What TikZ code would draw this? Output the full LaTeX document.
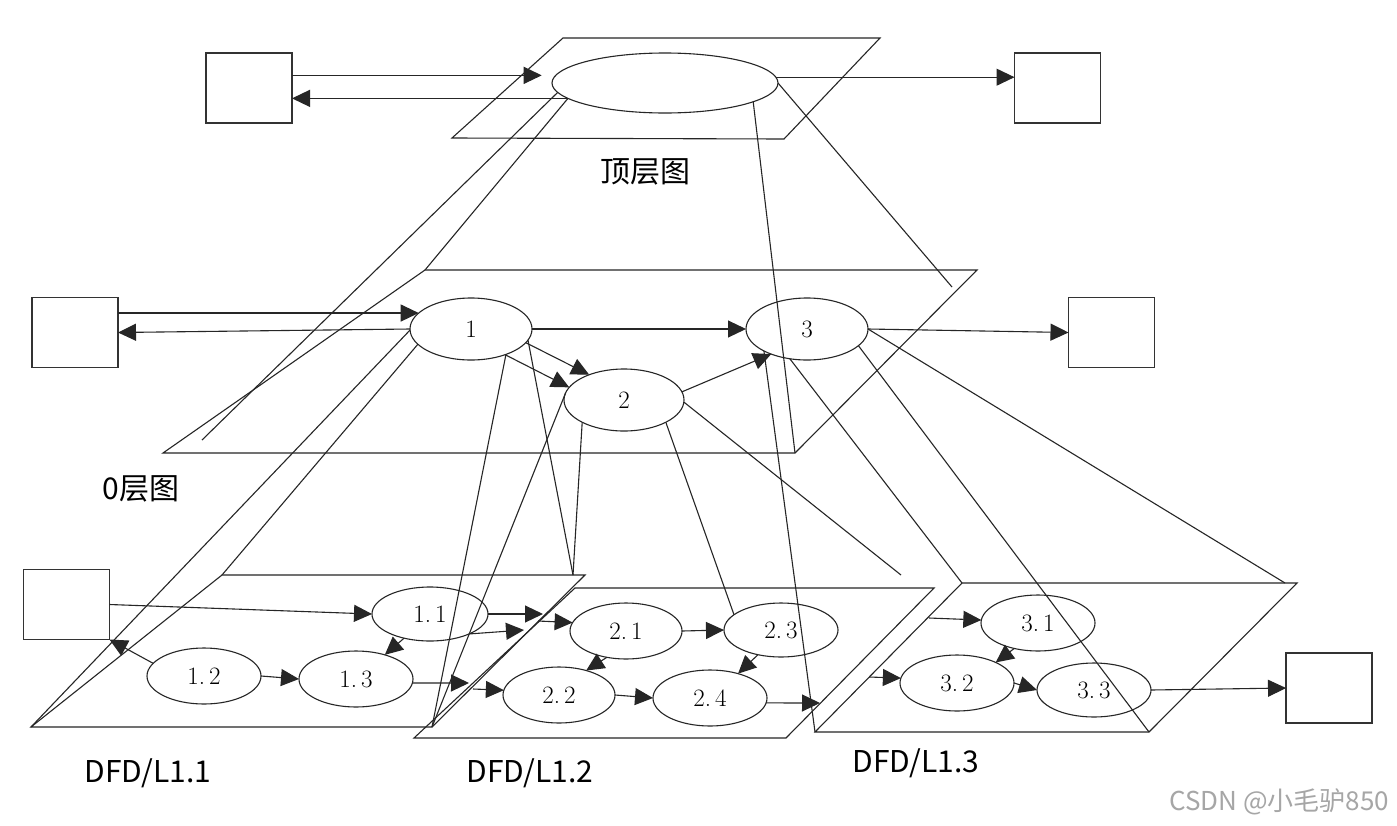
\documentclass[tikz,border=0pt]{standalone}
\usepackage{fontspec}
\newfontfamily\cjk{Noto Sans CJK SC}
\usetikzlibrary{arrows.meta,shapes.geometric}
\newcommand{\bt}[2]{#1.\kern4pt#2}
\begin{document}
\begin{tikzpicture}[x=1pt,y=-1pt,
  ln/.style={line width=1.1pt, draw=black!85},
  arr/.style={line width=1.1pt, draw=black!85, -{Triangle[length=18pt,width=17pt]}},
  bub/.style={ellipse, draw=black!85, line width=1.1pt, inner sep=0pt, outer sep=0pt, font=\fontsize{25}{25}\selectfont},
  ebox/.style={draw=black!80, line width=1.3pt, minimum width=86pt, minimum height=70pt, inner sep=0pt, outer sep=0pt},
  lbl/.style={font=\cjk\fontsize{30}{30}\selectfont, inner sep=0pt},
  wm/.style={font=\cjk\fontsize{26}{26}\selectfont, text=black!35, inner sep=0pt}]
\useasboundingbox (0,0) rectangle (1397,825);
\fill[white] (0,0) rectangle (1397,825);

% ---------- planes ----------
\coordinate (P0a) at (563,38);  \coordinate (P0b) at (880,38);
\coordinate (P0c) at (784,139); \coordinate (P0d) at (452,138);
\coordinate (P1a) at (425,270); \coordinate (P1b) at (977,270);
\coordinate (P1c) at (795,453); \coordinate (P1d) at (163,453);
\coordinate (P11a) at (222,575); \coordinate (P11b) at (585,575);
\coordinate (P11c) at (432,727); \coordinate (P11d) at (31,727);
\coordinate (P12a) at (575,588); \coordinate (P12b) at (934,588);
\coordinate (P12c) at (786,738); \coordinate (P12d) at (414,738);
\coordinate (P13a) at (962,583); \coordinate (P13b) at (1297,583);
\coordinate (P13c) at (1149,732); \coordinate (P13d) at (815,732);
\draw[ln] (P0a) -- (P0b) -- (P0c) -- (P0d) -- cycle;
\draw[ln] (P1a) -- (P1b) -- (P1c) -- (P1d) -- cycle;
\draw[ln] (P11a) -- (P11b) -- (P11c) -- (P11d) -- cycle;
\draw[ln] (P12a) -- (P12b) -- (P12c) -- (P12d) -- cycle;
\draw[ln] (P13a) -- (P13b) -- (P13c) -- (P13d) -- cycle;

% ---------- boxes ----------
\node[ebox] (BoxTL) at (249,88) {};
\node[ebox] (BoxTR) at (1057.5,88) {};
\node[ebox] (BoxL0) at (75,332.5) {};
\node[ebox] (BoxR0) at (1111.5,332.5) {};
\node[ebox] (BoxL1) at (66.5,604.5) {};
\node[ebox] (BoxR1) at (1329,688) {};

% ---------- bubbles ----------
\node[bub, minimum width=226pt, minimum height=60pt] (E0) at (665,83) {};
\node[bub, minimum width=122pt, minimum height=62pt] (B1) at (471,329) {1};
\node[bub, minimum width=120pt, minimum height=62pt] (B2) at (624,400) {2};
\node[bub, minimum width=122pt, minimum height=62pt] (B3) at (807,329) {3};
\node[bub, minimum width=116pt, minimum height=54pt] (B11) at (430,614) {\bt11};
\node[bub, minimum width=114pt, minimum height=56pt] (B12) at (204,676) {\bt12};
\node[bub, minimum width=114pt, minimum height=56pt] (B13) at (356,679) {\bt13};
\node[bub, minimum width=112pt, minimum height=56pt] (B21) at (626,631) {\bt21};
\node[bub, minimum width=112pt, minimum height=56pt] (B22) at (559,695) {\bt22};
\node[bub, minimum width=114pt, minimum height=54pt] (B23) at (781,630) {\bt23};
\node[bub, minimum width=114pt, minimum height=56pt] (B24) at (710,698) {\bt24};
\node[bub, minimum width=114pt, minimum height=56pt] (B31) at (1038,623) {\bt31};
\node[bub, minimum width=114pt, minimum height=56pt] (B32) at (957,683) {\bt32};
\node[bub, minimum width=114pt, minimum height=54pt] (B33) at (1094,690) {\bt33};

% ---------- free points ----------
\coordinate (a0) at (202,440);
\coordinate (d0) at (952,287);
\coordinate (t1) at (573,575);
\coordinate (t2) at (901,575);
\coordinate (tC) at (1285,583);
\coordinate (x1) at (543,614);
\coordinate (x1b) at (538,621);
\coordinate (x2) at (524,630);
\coordinate (x3) at (469,683);
\coordinate (x3b) at (473,689);
\coordinate (x4) at (820,703);
\coordinate (x5) at (929,618);
\coordinate (x6) at (869,677);

% ---------- explosion lines ----------
\draw[ln] (E0.185) -- (a0);
\draw[ln] (E0.189) -- (P1a);
\draw[ln] (E0.348) -- (P1c);
\draw[ln] (E0.east) -- (d0);
\draw[ln] (B1.181) -- (P11d);
\draw[ln] (B1.196) -- (P11a);
\draw[ln] (B1.324) -- (P11c);
\draw[ln] (B1.349) -- (t1);
\draw[ln] (B2.173) -- (P11c);
\draw[ln] (B2.208) -- (t1);
\draw[ln] (B2.332) -- (B23.162);
\draw[ln] (B2.358) -- (t2);
\draw[ln] (B3.207) -- (P13d);
\draw[ln] (B3.240) -- (P13a);
\draw[ln] (B3.342) -- (P13c);
\draw[ln] (B3.east) -- (tC);

% ---------- data flows: top ----------
\draw[arr, shorten >=14pt] (BoxTL.east |- E0.176) -- (E0.176);
\draw[arr] (E0.189) -- (E0.189 -| BoxTL.east);
\draw[arr] (E0.3) -- (E0.3 -| BoxTR.west);

% ---------- data flows: level 0 ----------
\draw[arr] (BoxL0.east |- B1.163) -- (B1.163);
\draw[arr] (B1.west) -- (BoxL0.east);
\draw[arr] (B1.east) -- (B3.west);
\draw[arr] (B1.346) -- (B2.144);
\draw[arr] (B1.323) -- (B2.167);
\draw[arr] (B2.8) -- (B3.215);
\draw[arr] (B3.east) -- (BoxR0.west);

% ---------- data flows: level 1 ----------
\draw[arr] (BoxL1.east) -- (B11.west);
\draw[arr] (B12.166) -- (BoxL1.south east);
\draw[arr] (B12.east) -- (B13.west);
\draw[arr] (B11.223) -- (B13.40);
\draw[arr] (B11.east) -- (x1);
\draw[arr] (x1b) -- (B21.171);
\draw[arr] (B11.333) -- (x2);
\draw[arr] (B13.356) -- (x3);
\draw[arr] (x3b) -- (B22.175);
\draw[arr] (B21.east) -- (B23.west);
\draw[arr] (B22.east) -- (B24.west);
\draw[arr] (B21.234) -- (B22.42);
\draw[arr] (B23.227) -- (B24.41);
\draw[arr] (B24.355) -- (x4);
\draw[arr] (x5) -- (B31.177);
\draw[arr] (x6) -- (B32.175);
\draw[arr] (B32.east) -- (B33.west);
\draw[arr] (B31.227) -- (B32.28);
\draw[arr] (B33.east) -- (BoxR1.west);

% ---------- labels ----------
\node[lbl] (Ltop) at (645,172) {顶层图};
\node[lbl] (L0) at (141,489) {0层图};
\node[lbl] (L11) at (148,773) {DFD/L1.1};
\node[lbl] (L12) at (530,773) {DFD/L1.2};
\node[lbl] (L13) at (916,763) {DFD/L1.3};
\node[wm] (WM) at (1279,802) {CSDN @小毛驴850};
\end{tikzpicture}
\end{document}
